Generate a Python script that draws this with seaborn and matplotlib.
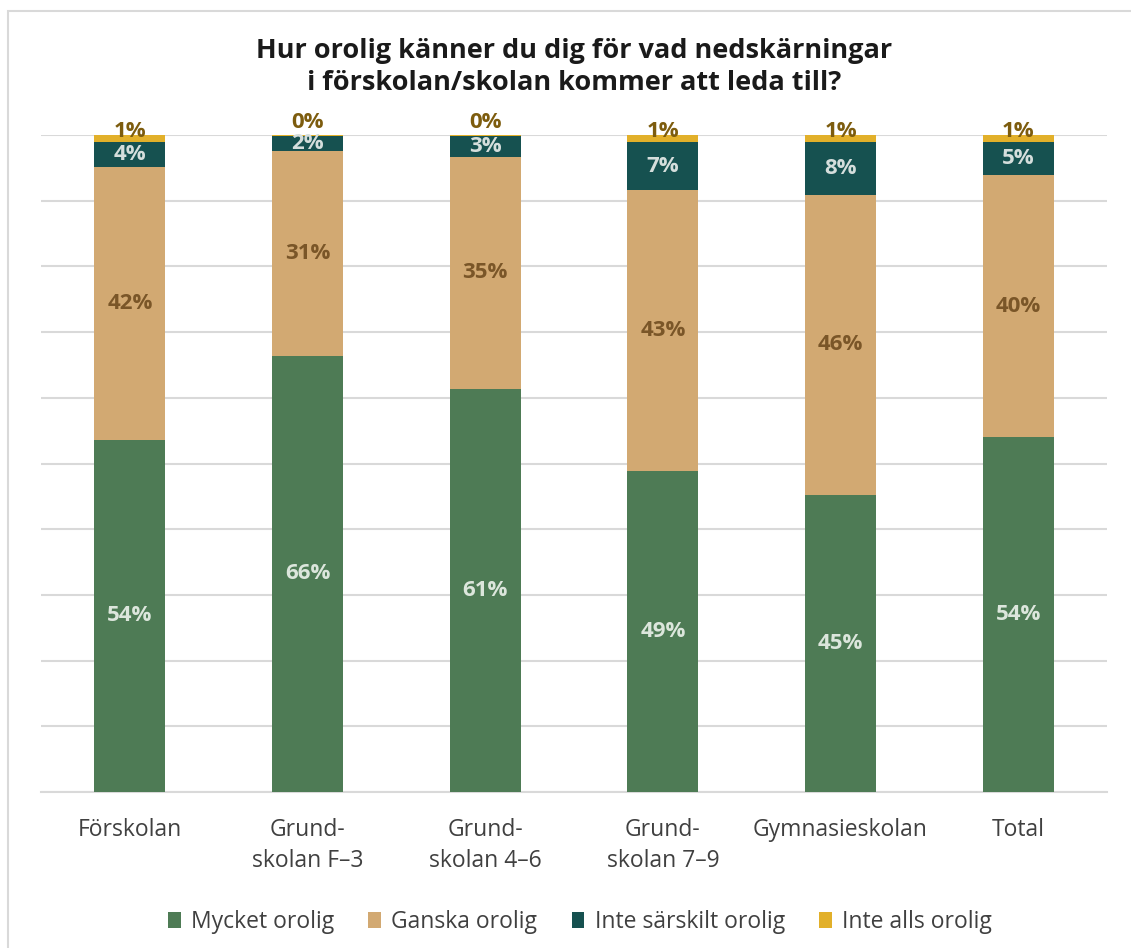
import numpy as np
import pandas as pd
import matplotlib.pyplot as plt
import seaborn as sns
from matplotlib.patches import Rectangle, Patch

# data (percent of respondents)
kategorier = ['Förskolan', 'Grund-\nskolan F–3', 'Grund-\nskolan 4–6',
              'Grund-\nskolan 7–9', 'Gymnasieskolan', 'Total']
mycket = [53.6, 66.4, 61.3, 48.9, 45.2, 54.0]
ganska = [41.6, 31.2, 35.4, 42.7, 45.7, 39.9]
inte_sarskilt = [3.7, 2.3, 3.2, 7.3, 8.0, 5.0]
inte_alls = [1.1, 0.1, 0.1, 1.1, 1.1, 1.1]
serier = ['Mycket orolig', 'Ganska orolig', 'Inte särskilt orolig', 'Inte alls orolig']

farger = ['#4E7B55', '#D2A972', '#165150', '#E2B02A']
textfarger = ['#DCE6DC', '#7A5628', '#D5DEDC', '#7D5C0E']

sns.set_theme(style='white')
plt.rcParams['font.family'] = ['Open Sans', 'DejaVu Sans']

df = pd.DataFrame({'kat': kategorier, 'Mycket orolig': mycket, 'Ganska orolig': ganska,
                   'Inte särskilt orolig': inte_sarskilt, 'Inte alls orolig': inte_alls})
cum = df[serier].cumsum(axis=1)

fig = plt.figure(figsize=(11.31, 9.48), dpi=100)
ax = fig.add_axes([41 / 1131, 1 - 792 / 948, (1107 - 41) / 1131, (792 - 135) / 948])

# stacked bars: draw the cumulative totals from the top layer down
for s, c in reversed(list(zip(serier, farger))):
    sns.barplot(x=df['kat'], y=cum[s], color=c, width=0.4,
                saturation=1, ax=ax, zorder=3, linewidth=0)

ax.set_ylim(0, 100)
ax.set_xlim(-0.5, 5.5)
ax.set_yticks(np.arange(0, 101, 10))
ax.set_yticklabels([])
ax.yaxis.grid(True, color='#D9D9D9', linewidth=1.5, zorder=0)
ax.set_axisbelow(True)
for sp in ['top', 'left', 'right']:
    ax.spines[sp].set_visible(False)
ax.spines['bottom'].set_color('#D9D9D9')
ax.spines['bottom'].set_linewidth(1.5)
ax.tick_params(axis='both', length=0)
ax.tick_params(axis='x', pad=19)
ax.set_xlabel('')
ax.set_ylabel('')
ax.set_xticks(range(len(kategorier)))
ax.set_xticklabels(kategorier, fontsize=16.5, color='#404040', linespacing=1.35, va='top')

# data labels
for j, s in enumerate(serier):
    for i in range(len(kategorier)):
        v = df[s][i]
        mid = cum[s][i] - v / 2
        if j == 3:
            # small top segment: label sits a little above the bar
            mid += 1.1 if v >= 0.5 else 1.9
        ax.text(i, mid, f'{round(v):d}%', ha='center', va='center', fontsize=16,
                fontweight='bold', color=textfarger[j], zorder=5)

fig.text(0.508, 1 - 67 / 948,
         'Hur orolig känner du dig för vad nedskärningar\ni förskolan/skolan kommer att leda till?',
         ha='center', va='center', fontsize=19.5, fontweight='bold', color='#1A1A1A',
         linespacing=1.3)

handles = [Patch(facecolor=c, edgecolor='none') for c in farger]
fig.legend(handles, serier, loc='center', bbox_to_anchor=(580 / 1131, 1 - 922 / 948), ncol=4,
           frameon=False, fontsize=16.5, handlelength=0.55, handleheight=0.65,
           handletextpad=0.45, columnspacing=1.5, labelcolor='#404040')

fig.patches.append(Rectangle((8 / 1131, -0.05), 1.2, 1 - 11 / 948 + 0.05,
                             transform=fig.transFigure, fill=False,
                             edgecolor='#D9D9D9', linewidth=1.5))

fig.savefig('out.png', dpi=100)
